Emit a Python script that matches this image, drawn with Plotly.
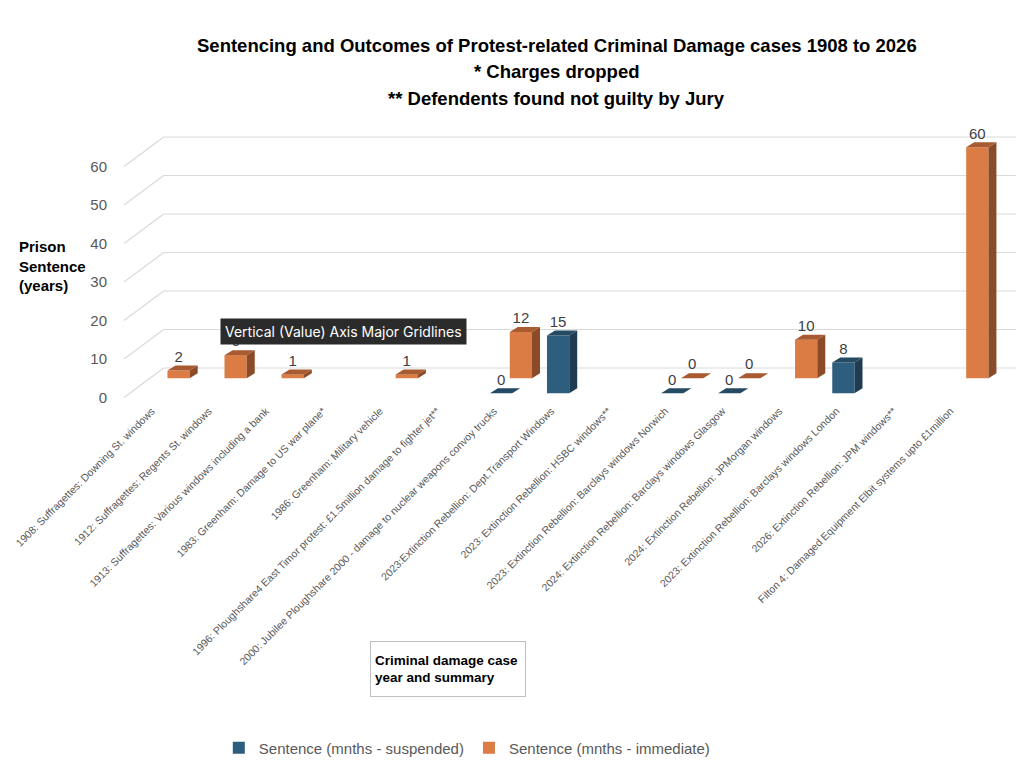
import plotly.graph_objects as go

# case labels (x axis)
cases = [
    "1908: Suffragettes: Downing St. windows",
    "1912: Suffragettes: Regents St. windows",
    "1913: Suffragettes: Various windows including a bank",
    "1983: Greenham: Damage to US war plane*",
    "1986: Greenham: Military vehicle",
    "1996: Ploughshare4 East Timor protest: £1.5million damage to fighter jet**",
    "2000: Jubilee Ploughshare 2000 - damage to nuclear weapons convoy trucks",
    "2023:Extinction Rebellion: Dept.Transport Windows",
    "2023: Extinction Rebellion: HSBC windows**",
    "2023: Extinction Rebellion: Barclays windows Norwich",
    "2024: Extinction Rebellion: Barclays windows Glasgow",
    "2024: Extinction Rebellion: JPMorgan windows",
    "2023: Extinction Rebellion: Barclays windows London",
    "2026: Extinction Rebellion: JPM windows**",
    "Filton 4: Damaged Equipment Elbit systems upto £1million",
]

# sentence values (None = no bar)
suspended = [None, None, None, None, None, None, 0, 15, None, 0, 0, None, 8, None, None]
immediate = [2, 6, 1, None, 1, None, 12, None, None, 0, 0, 10, None, None, 60]

y_ticks = [0, 10, 20, 30, 40, 50, 60]

FONT = "Liberation Sans, Arial, sans-serif"
GREY = "#595959"

# the page body adds an 8px margin, so the figure is drawn 8px smaller
PAD = 8
FW, FH = 1024 - PAD, 781 - PAD

# plot area in screen pixels, so the 3D look can be faked with shapes
PL, PR, PT, PB = 117, 1019, 120, 402
UNIT = 57.5
TICK0 = 145
X0 = (PL - TICK0) / UNIT
X1 = X0 + (PR - PL) / UNIT
Y0, Y1 = -1.17, 72.08


def fx(p):
    return (p - PL) / (PR - PL)


def fy(p):
    return (PB - p) / (PB - PT)


W = 0.39          # bar front width (category units)
DX, DY = 0.14, 1.3  # depth of top/side faces
BACK = 7.66       # back wall offset

fig = go.Figure()


def add_series(vals, name, base, off, front, side, top, rank):
    fig.add_trace(go.Bar(
        x=list(range(len(vals))), y=vals, base=base, width=W, offset=off - W / 2,
        name=name, marker=dict(color=front, line=dict(width=0)), legendrank=rank,
    ))
    sx, sy, tx, ty, lx, ly, lt = [], [], [], [], [], [], []
    for i, v in enumerate(vals):
        if v is None:
            continue
        xl, xr = i + off - W / 2, i + off + W / 2
        b, t = base, base + v
        sx += [xr, xr, xr + DX, xr + DX, xr, None]
        sy += [b, t, t + DY, b + DY, b, None]
        tx += [xl, xr, xr + DX, xl + DX, xl, None]
        ty += [t, t, t + DY, t + DY, t, None]
        lx.append(i + off)
        ly.append(t + DY)
        lt.append(str(v))
    fig.add_trace(go.Scatter(x=sx, y=sy, fill="toself", fillcolor=side, mode="lines",
                             line=dict(width=0), showlegend=False, hoverinfo="skip"))
    fig.add_trace(go.Scatter(x=tx, y=ty, fill="toself", fillcolor=top, mode="lines",
                             line=dict(width=0), showlegend=False, hoverinfo="skip"))
    fig.add_trace(go.Scatter(x=lx, y=ly, text=lt, mode="text", textposition="top center",
                             textfont=dict(size=15, color="#404040", family=FONT),
                             showlegend=False, hoverinfo="skip"))


# back row first (orange), then front row (blue)
add_series(immediate, "Sentence (mnths - immediate)", 5.0, (172 - TICK0) / UNIT,
           "#DA7C44", "#8C4B28", "#A85A30", 2)
add_series(suspended, "Sentence (mnths - suspended)", 1.1, (152 - TICK0) / UNIT,
           "#2E5E7E", "#1F3C52", "#244A64", 1)

# 3D style gridlines: slanted on the side wall, flat on the back wall
slant = X0 + 40 / UNIT
for t in y_ticks:
    fig.add_shape(type="line", xref="x", yref="y", x0=X0, y0=t, x1=slant, y1=t + BACK,
                  line=dict(color="#D9D9D9", width=1.2), layer="below")
    fig.add_shape(type="line", xref="x", yref="y", x0=slant, y0=t + BACK, x1=X1, y1=t + BACK,
                  line=dict(color="#D9D9D9", width=1.2), layer="below")

title_lines = [
    "Sentencing and Outcomes of Protest-related Criminal Damage cases 1908 to 2026",
    "* Charges dropped",
    "** Defendents found not guilty by Jury",
]
for k, line in enumerate(title_lines):
    fig.add_annotation(text="<b>" + line + "</b>", xref="paper", yref="paper",
                       x=fx(553), y=fy(45 + 27 * k), xanchor="center", yanchor="middle",
                       showarrow=False, font=dict(size=18.5, color="black", family=FONT))

fig.add_annotation(text="<b>Prison<br>Sentence<br>(years)</b>", xref="paper", yref="paper",
                   x=fx(9), y=fy(266), xanchor="left", yanchor="middle", align="left",
                   showarrow=False, font=dict(size=15, color="black", family=FONT))

fig.add_annotation(text="<b>Criminal damage case<br>year and summary</b>", xref="paper", yref="paper",
                   x=fx(365), y=fy(641), xanchor="left", yanchor="top", align="left",
                   width=146, height=46, borderpad=4, bordercolor="#BFBFBF", borderwidth=1,
                   showarrow=False, font=dict(size=13.5, color="black", family=FONT))

fig.add_annotation(text="Vertical (Value) Axis Major Gridlines", xref="paper", yref="paper",
                   x=fx(338), y=fy(331), xanchor="center", yanchor="middle",
                   bgcolor="#2B2B2B", borderpad=4, showarrow=False,
                   font=dict(size=14, color="white", family="Inter, Noto Sans, sans-serif"))

fig.update_layout(
    width=FW, height=FH,
    margin=dict(l=PL - PAD, r=FW - (PR - PAD), t=PT - PAD, b=FH - (PB - PAD)),
    paper_bgcolor="white", plot_bgcolor="white",
    barmode="overlay",
    font=dict(family=FONT, color=GREY),
    xaxis=dict(range=[X0, X1], tickvals=list(range(len(cases))), ticktext=cases,
               tickangle=-45, tickfont=dict(size=10.5, color=GREY), showgrid=False,
               zeroline=False, showline=False, ticks="", ticklabeloverflow="allow"),
    yaxis=dict(range=[Y0, Y1], tickvals=y_ticks, tickfont=dict(size=15, color=GREY),
               showgrid=False, zeroline=False, showline=False, ticklabelstandoff=16),
    legend=dict(orientation="h", x=fx(463), y=fy(748), xanchor="center", yanchor="middle",
                font=dict(size=15, color=GREY), itemwidth=30, traceorder="normal"),
    showlegend=True,
)

fig.write_html("out.html")
